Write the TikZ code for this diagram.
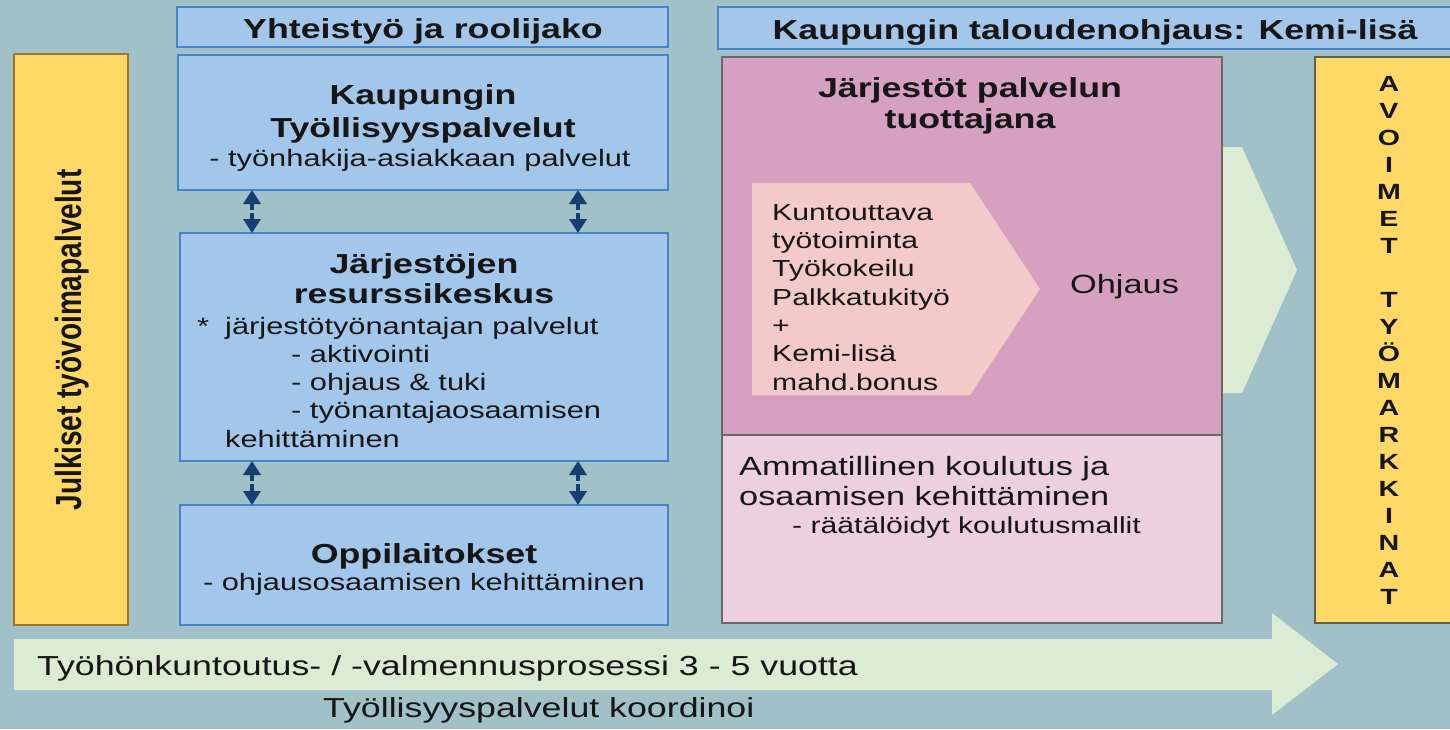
\documentclass[tikz,border=0pt]{standalone}
\usepackage{fontspec}
\setmainfont{Liberation Sans}[FakeStretch=1.3]
\newfontfamily\plainsans{Liberation Sans}
\usetikzlibrary{arrows.meta}
\definecolor{bgc}{RGB}{160,193,199}
\definecolor{yel}{RGB}{255,216,102}
\definecolor{yelb}{RGB}{160,118,45}
\definecolor{yelb2}{RGB}{95,95,85}
\definecolor{blu}{RGB}{163,199,235}
\definecolor{blub}{RGB}{72,132,204}
\definecolor{pnk}{RGB}{214,161,192}
\definecolor{pnkl}{RGB}{236,208,222}
\definecolor{pnkb}{RGB}{105,105,105}
\definecolor{chev}{RGB}{243,201,202}
\definecolor{grn}{RGB}{219,235,212}
\definecolor{navy}{RGB}{22,62,112}
\definecolor{txtc}{RGB}{22,22,22}
\tikzset{
  box/.style={anchor=north west, inner sep=0pt, outer sep=0pt},
  bluebox/.style={box, fill=blu, draw=blub, line width=2.6pt},
  pinkbox/.style={box, fill=pnk, draw=pnkb, line width=2.2pt},
  pinklbox/.style={box, fill=pnkl, draw=pnkb, line width=2.2pt},
  yelbox/.style={box, fill=yel, draw=yelb, line width=2.2pt},
  yelbox2/.style={box, fill=yel, draw=yelb2, line width=2.2pt},
  txt/.style={anchor=base, inner sep=0pt, text=txtc},
  txtl/.style={anchor=base west, inner sep=0pt, text=txtc},
  hfont/.style={font=\bfseries\fontsize{27.5}{32}\selectfont},
  tfont/.style={font=\bfseries\fontsize{27.5}{32}\selectfont},
  bfont/.style={font=\fontsize{23.7}{28}\selectfont},
  cfont/.style={font=\fontsize{23.2}{28}\selectfont},
  mfont/.style={font=\fontsize{26.4}{31}\selectfont},
  lfont/.style={font=\fontsize{27.5}{32}\selectfont},
  letter/.style={anchor=base, inner sep=0pt, text=txtc, font=\bfseries\fontsize{22}{26}\selectfont},
  arrowhalf/.style={draw=navy, line width=4pt, -{Triangle[length=14pt,width=17pt]}},
}
\begin{document}
\begin{tikzpicture}[x=1pt,y=-1pt]
\clip (0,0) rectangle (1450,729);
\fill[bgc] (0,0) rectangle (1450,729);

% bottom process arrow
\fill[grn] (14,639) -- (1272,639) -- (1272,613) -- (1338,664) -- (1272,715) -- (1272,690) -- (14,690) -- cycle;
\node[txtl, lfont] (proc) at (37,675) {Työhönkuntoutus- / -valmennusprosessi 3 - 5 vuotta};
\node[txtl, lfont] (koord) at (323,717) {Työllisyyspalvelut koordinoi};

% big green chevron behind pink box
\fill[grn] (1200,147) -- (1242,147) -- (1297,270) -- (1242,393) -- (1200,393) -- cycle;

% left yellow box
\node[yelbox, minimum width=114pt, minimum height=571pt] (julk) at (14,54) {};
\node[inner sep=0pt, text=txtc] (julkt) at (72,340) {\rotatebox{90}{\scalebox{1}[1.3]{\plainsans\bfseries\fontsize{28}{32}\selectfont Julkiset työvoimapalvelut}}};

% headers
\node[bluebox, minimum width=491pt, minimum height=40pt] (h1) at (177,7) {};
\node[txt, hfont] (h1t) at (423,38) {Yhteistyö ja roolijako};
\node[bluebox, minimum width=760pt, minimum height=42pt] (h2) at (718,7) {};
\node[txt, hfont] (h2t) at (1095,39) {Kaupungin taloudenohjaus: Kemi-lisä};

% blue boxes
\node[bluebox, minimum width=490pt, minimum height=135pt] (kt) at (178,55) {};
\node[txt, tfont] (kt1) at (423,104) {Kaupungin};
\node[txt, tfont] (kt2) at (423,137) {Työllisyyspalvelut};
\node[txt, bfont] (kt3) at (420,166) {- työnhakija-asiakkaan palvelut};

\node[bluebox, minimum width=488pt, minimum height=228pt] (jr) at (180,233) {};
\node[txt, tfont] (jr1) at (424,273) {Järjestöjen};
\node[txt, tfont] (jr2) at (424,303) {resurssikeskus};
\node[txtl, bfont] (jr3a) at (197,334) {*};
\node[txtl, bfont] (jr3) at (225,334) {järjestötyönantajan palvelut};
\node[txtl, bfont] (jr4) at (291,362) {- aktivointi};
\node[txtl, bfont] (jr5) at (291,390) {- ohjaus \& tuki};
\node[txtl, bfont] (jr6) at (291,418) {- työnantajaosaamisen};
\node[txtl, bfont] (jr7) at (225,447) {kehittäminen};

\node[bluebox, minimum width=488pt, minimum height=120pt] (op) at (180,505) {};
\node[txt, tfont] (op1) at (424,563) {Oppilaitokset};
\node[txt, bfont] (op2) at (424,590) {- ohjausosaamisen kehittäminen};

% double arrows
\coordinate (u1) at (252,210);
\coordinate (d1) at (252,213);
\coordinate (u2) at (578,210);
\coordinate (d2) at (578,213);
\draw[arrowhalf] (u1) -- (kt.south -| u1);
\draw[arrowhalf] (d1) -- (jr.north -| d1);
\draw[arrowhalf] (u2) -- (kt.south -| u2);
\draw[arrowhalf] (d2) -- (jr.north -| d2);
\coordinate (u3) at (252,481);
\coordinate (d3) at (252,484);
\coordinate (u4) at (578,481);
\coordinate (d4) at (578,484);
\draw[arrowhalf] (u3) -- (jr.south -| u3);
\draw[arrowhalf] (d3) -- (op.north -| d3);
\draw[arrowhalf] (u4) -- (jr.south -| u4);
\draw[arrowhalf] (d4) -- (op.north -| d4);

% pink boxes
\node[pinkbox, minimum width=500pt, minimum height=378pt] (pk) at (722,57) {};
\node[txt, tfont] (pk1) at (970,97) {Järjestöt palvelun};
\node[txt, tfont] (pk2) at (970,128) {tuottajana};
\fill[chev] (752,183) -- (970,183) -- (1040,289) -- (970,395) -- (752,395) -- cycle;
\node[txtl, cfont] (c1) at (772,220) {Kuntouttava};
\node[txtl, cfont] (c2) at (772,248.3) {työtoiminta};
\node[txtl, cfont] (c3) at (772,276.6) {Työkokeilu};
\node[txtl, cfont] (c4) at (772,305) {Palkkatukityö};
\node[txtl, cfont] (c5) at (772,333.3) {+};
\node[txtl, cfont] (c6) at (772,361.6) {Kemi-lisä};
\node[txtl, cfont] (c7) at (772,390) {mahd.bonus};
\node[txtl, mfont] (ohj) at (1070,293) {Ohjaus};

\node[pinklbox, minimum width=500pt, minimum height=188pt] (ak) at (722,435) {};
\node[txtl, mfont] (ak1) at (739,475) {Ammatillinen koulutus ja};
\node[txtl, mfont] (ak2) at (739,505) {osaamisen kehittäminen};
\node[txtl, cfont] (ak3) at (792,533) {- räätälöidyt koulutusmallit};

% right yellow box
\node[yelbox2, minimum width=160pt, minimum height=566pt] (av) at (1315,57) {};
\foreach \l [count=\i from 0] in {A,V,O,I,M,E,T}
  \node[letter] (ra\i) at (1389, {91+27.05*\i}) {\l};
\foreach \l [count=\i from 8] in {T,Y,Ö,M,A,R,K,K,I,N,A,T}
  \node[letter] (rb\i) at (1389, {91+27.05*\i}) {\l};
\end{tikzpicture}
\end{document}
